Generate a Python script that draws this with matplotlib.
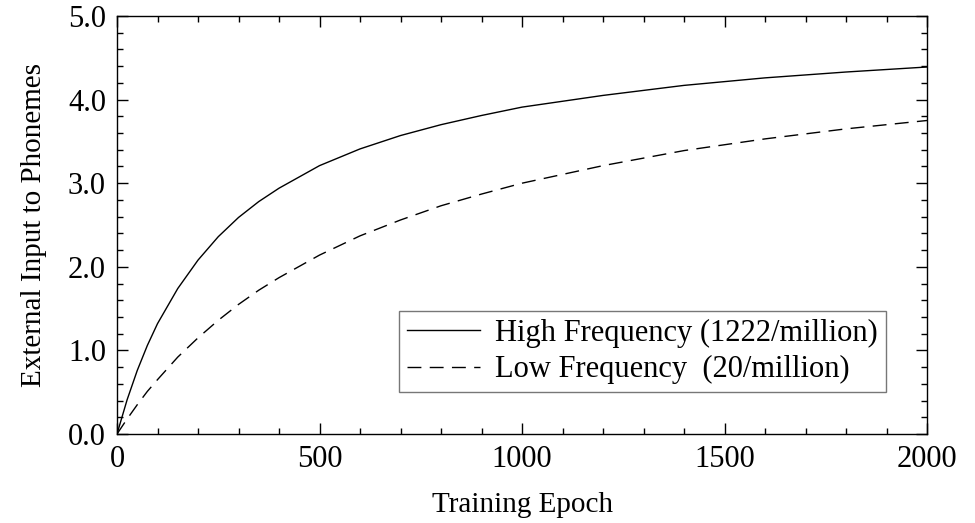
import numpy as np
import matplotlib
matplotlib.use('Agg')
import matplotlib.pyplot as plt
from matplotlib.ticker import MultipleLocator, FormatStrFormatter

plt.rcParams['font.family'] = ['Liberation Serif', 'DejaVu Serif']
plt.rcParams['font.size'] = 22

# External input to phonemes over training, read per epoch
epochs = [0, 25, 50, 75, 100, 150, 200, 250, 300, 350, 400, 500, 600, 700,
          800, 900, 1000, 1200, 1400, 1600, 1800, 2000]
high_freq = [0.0, 0.41, 0.76, 1.06, 1.32, 1.74, 2.08, 2.36, 2.59, 2.78, 2.94,
             3.21, 3.41, 3.57, 3.70, 3.81, 3.91, 4.05, 4.17, 4.26, 4.33, 4.39]
low_freq = [0.0, 0.18, 0.35, 0.51, 0.65, 0.92, 1.15, 1.36, 1.55, 1.72, 1.87,
            2.14, 2.37, 2.56, 2.73, 2.87, 3.00, 3.21, 3.39, 3.53, 3.65, 3.75]

high_label = 'High Frequency (1222/million)'
low_label = 'Low Frequency  (20/million)'

fig = plt.figure(figsize=(9.75, 5.23), dpi=100)
ax = fig.add_axes([117 / 975, 1 - 434 / 523, 810 / 975, 418 / 523])

ax.plot(epochs, high_freq, color='black', lw=1.0, label=high_label)
ax.plot(epochs, low_freq, color='black', lw=1.0, dashes=(10, 6), label=low_label)

ax.set_xlim(0, 2000)
ax.set_ylim(0, 5)
ax.xaxis.set_major_locator(MultipleLocator(500))
ax.xaxis.set_minor_locator(MultipleLocator(100))
ax.yaxis.set_major_locator(MultipleLocator(1.0))
ax.yaxis.set_minor_locator(MultipleLocator(0.2))
ax.yaxis.set_major_formatter(FormatStrFormatter('%.1f'))
ax.tick_params(which='both', direction='in', top=True, right=True, width=1.0)
ax.tick_params(which='major', length=8, pad=8, labelsize=22)
ax.tick_params(which='minor', length=4)
for sp in ax.spines.values():
    sp.set_linewidth(1.0)

ax.set_xlabel('Training Epoch', fontsize=21, labelpad=13)
ax.set_ylabel('External Input to Phonemes', fontsize=21, labelpad=15)

leg = ax.legend(loc='upper left', bbox_to_anchor=(282 / 810, 123 / 418),
                borderaxespad=0, fontsize=22, frameon=True, fancybox=False,
                handlelength=2.4, handletextpad=0.5, borderpad=0.25,
                labelspacing=0.25)
leg.get_frame().set_edgecolor('#555555')
leg.get_frame().set_linewidth(1.0)

fig.savefig('out.png', dpi=100)
